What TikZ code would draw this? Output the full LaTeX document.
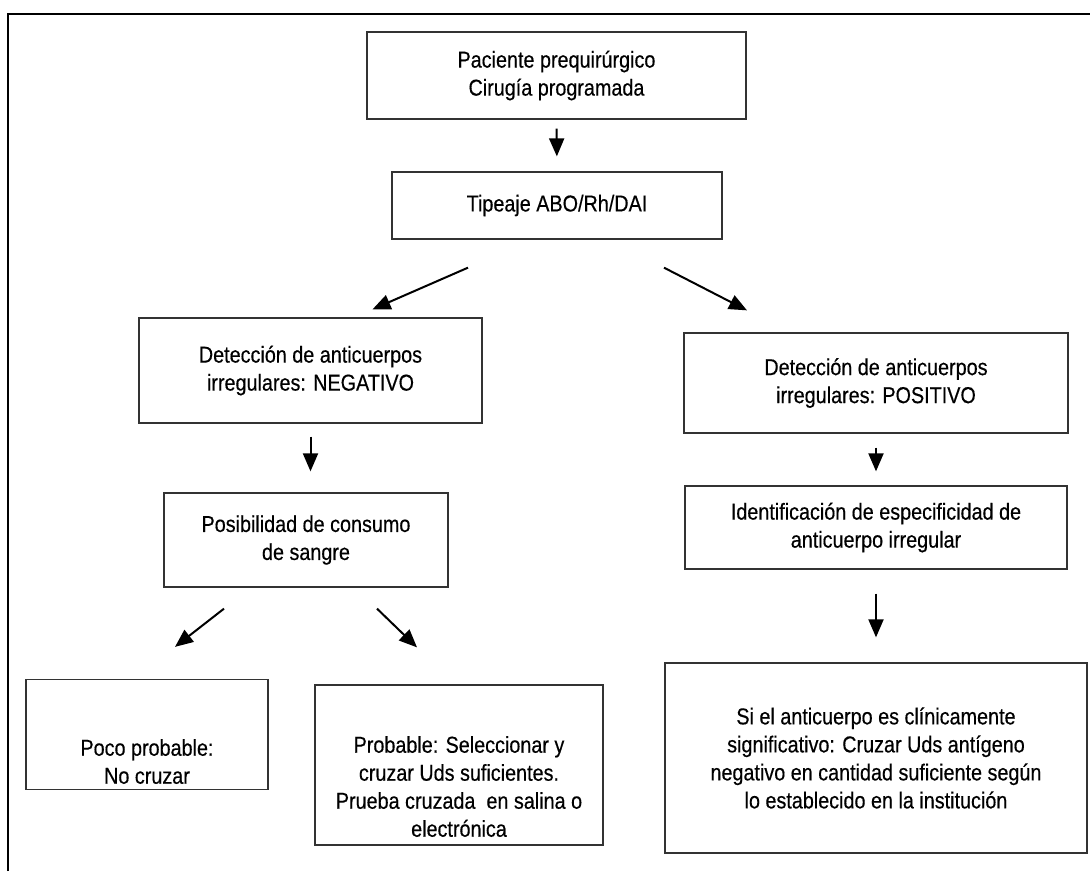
\documentclass[tikz,border=0pt]{standalone}
\usepackage{fontspec}
\setmainfont{Liberation Sans}[FakeStretch=0.86, FakeBold=0.4]
\usepackage{tikz}
\usetikzlibrary{arrows.meta}
\definecolor{BoxLine}{HTML}{333333}

\begin{document}
\begin{tikzpicture}[x=1pt, y=-1pt,
        box/.style={draw=BoxLine, line width=1.3pt, align=center, inner sep=4pt,
                    font=\fontsize{23}{28}\selectfont},
        boxtext/.style={align=center, inner sep=0pt, font=\fontsize{23}{28}\selectfont},
        flow/.style={-{Triangle[length=18pt,width=15pt]}, line width=2pt}]
        \useasboundingbox (0,0) rectangle (1090,871);
        \draw[line width=1.3pt] (8,871) -- (8,14) -- (1090,14);
        \node[box, minimum width=379pt, minimum height=87pt]  (pac)   at (556.5,75.5) {Paciente prequirúrgico\\Cirugía programada};
        \node[box, minimum width=330pt, minimum height=67pt]  (tip)   at (557,205.5)  {Tipeaje ABO/Rh/DAI};
        \node[box, minimum width=343pt, minimum height=105pt] (neg)   at (310.5,370.5) {Detección de anticuerpos\\irregulares: NEGATIVO};
        \node[box, minimum width=384pt, minimum height=100pt] (pos)   at (876,383)    {Detección de anticuerpos\\irregulares: POSITIVO};
        \node[box, minimum width=284pt, minimum height=94pt]  (cons)  at (306,540)    {Posibilidad de consumo\\de sangre};
        \node[box, minimum width=382pt, minimum height=83pt]  (ident) at (876,527.5)  {Identificación de especificidad de\\anticuerpo irregular};
        \node[box, minimum width=242pt, minimum height=110pt] (poco)  at (147,734.5)  {};
        \node[boxtext] (poco-txt) at ([yshift=-27pt]poco.center) {Poco probable:\\No cruzar};
        \node[box, minimum width=288pt, minimum height=160pt] (prob)  at (459,765)    {};
        \node[boxtext] (prob-txt) at ([yshift=-21.5pt]prob.center) {Probable: Seleccionar y\\cruzar Uds suficientes.\\Prueba cruzada\ \ en salina o\\electrónica};
        \node[box, minimum width=422pt, minimum height=190pt] (sig)   at (876,758)    {Si el anticuerpo es clínicamente\\significativo: Cruzar Uds antígeno\\negativo en cantidad suficiente según\\lo establecido en la institución};
        \draw[flow, shorten <=9pt, shorten >=15pt] (pac.south) -- (tip.north);
        \draw[flow] ([xshift=-89pt,yshift=-28pt]tip.south) -- ([xshift=62pt,yshift=8pt]neg.north);
        \draw[flow] ([xshift=107pt,yshift=-28pt]tip.south) -- ([xshift=-129pt,yshift=22pt]pos.north);
        \draw[flow, shorten <=13pt, shorten >=21pt] (neg.south) -- (neg.south |- cons.north);
        \draw[flow, shorten <=14pt, shorten >=14pt] (pos.south) -- (ident.north);
        \draw[flow, shorten <=24pt, shorten >=25pt] (ident.south) -- (ident.south |- sig.north);
        \draw[flow] ([xshift=-82pt,yshift=-21pt]cons.south) -- ([xshift=28pt,yshift=32pt]poco.north);
        \draw[flow] ([xshift=71pt,yshift=-21pt]cons.south) -- ([xshift=-42pt,yshift=37pt]prob.north);
      \end{tikzpicture}
\end{document}
